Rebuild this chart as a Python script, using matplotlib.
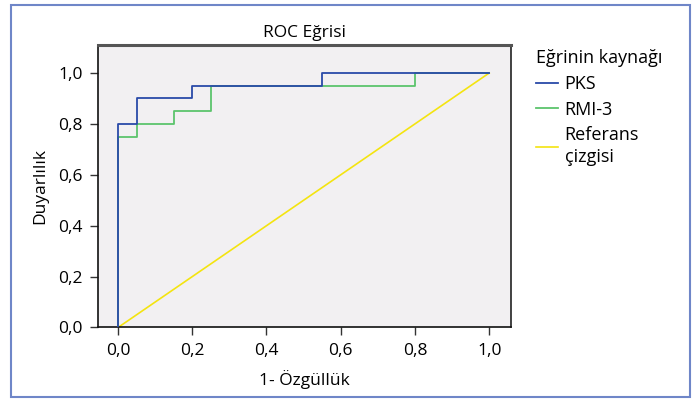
import matplotlib
matplotlib.use("Agg")
import matplotlib.pyplot as plt
from matplotlib.patches import Rectangle

plt.rcParams['font.family'] = ['Open Sans', 'DejaVu Sans']

# Data (step ROC curves)
pks_x = [0.0, 0.0, 0.05, 0.05, 0.20, 0.20, 0.55, 0.55, 1.0]
pks_y = [0.0, 0.80, 0.80, 0.90, 0.90, 0.95, 0.95, 1.00, 1.0]
rmi_x = [0.0, 0.0, 0.05, 0.05, 0.15, 0.15, 0.25, 0.25, 0.80, 0.80, 1.0]
rmi_y = [0.0, 0.75, 0.75, 0.80, 0.80, 0.85, 0.85, 0.95, 0.95, 1.00, 1.0]
ref_x = [0.0, 1.0]
ref_y = [0.0, 1.0]
ticks = [0.0, 0.2, 0.4, 0.6, 0.8, 1.0]
tick_labels = ["0,0", "0,2", "0,4", "0,6", "0,8", "1,0"]

fs = 12.5

fig = plt.figure(figsize=(6.94, 3.99), dpi=100)
ax = fig.add_axes([0.1412, 0.1792, 0.5947, 0.708])
ax.set_facecolor('#f2f0f2')

ax.plot(pks_x, pks_y, color='#2a4aa8', lw=1.3, label='PKS', zorder=3)
ax.plot(rmi_x, rmi_y, color='#5cc46c', lw=1.3, label='RMI-3', zorder=2)
ax.plot(ref_x, ref_y, color='#f4e410', lw=1.2, label='Referans\nçizgisi', zorder=1)

ax.set_xlim(-0.054, 1.058)
ax.set_ylim(0, 1.11)
ax.set_xticks(ticks)
ax.set_xticklabels(tick_labels)
ax.set_yticks(ticks)
ax.set_yticklabels(tick_labels)
ax.tick_params(labelsize=fs, length=6, width=1, color='#333333', pad=5)

for s in ['left', 'bottom']:
    ax.spines[s].set_color('#111111')
    ax.spines[s].set_linewidth(1.2)
ax.spines['top'].set_color('#555555')
ax.spines['top'].set_linewidth(2.2)
ax.spines['right'].set_color('#222222')
ax.spines['right'].set_linewidth(1.2)

ax.set_title('ROC Eğrisi', fontsize=fs, pad=6)
ax.set_xlabel('1- Özgüllük', fontsize=fs, labelpad=8)
ax.set_ylabel('Duyarlılık', fontsize=fs, labelpad=7)

leg = ax.legend(loc='upper left', bbox_to_anchor=(0.772, 0.878),
                bbox_transform=fig.transFigure, frameon=False,
                title='Eğrinin kaynağı', fontsize=fs + 0.5, title_fontsize=fs + 0.5,
                handlelength=1.25, handletextpad=0.35, labelspacing=0.42,
                borderaxespad=0, borderpad=0)
leg._legend_box.align = 'left'
leg._legend_box.sep = 6
for t in leg.get_texts():
    t.set_linespacing(1.3)

fig.add_artist(Rectangle((11/694, 1 - 397/399), 679/694, 392/399,
                         transform=fig.transFigure, fill=False,
                         edgecolor='#6f86c8', lw=1.5))

fig.savefig('out.png', dpi=100)
